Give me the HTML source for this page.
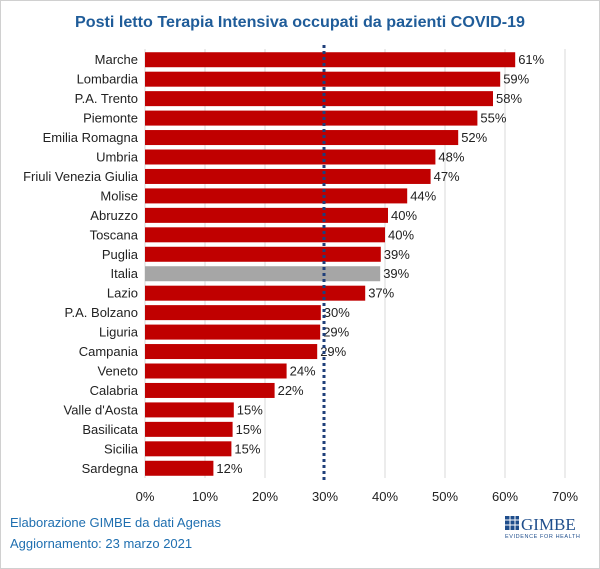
<!DOCTYPE html>
<html><head><style>
body{margin:0;background:#fff;}
.w{position:relative;width:598px;height:567px;border:1px solid #d0d0d0;font-family:"Liberation Sans",sans-serif;overflow:hidden}
</style></head><body><div class="w">
<svg width="598" height="567" viewBox="1 1 598 567" xmlns="http://www.w3.org/2000/svg" font-family="Liberation Sans, sans-serif">
<text x="300" y="27" text-anchor="middle" font-size="16" font-weight="bold" fill="#1f5c99" textLength="450" lengthAdjust="spacingAndGlyphs">Posti letto Terapia  Intensiva occupati da pazienti COVID-19</text>
<g stroke="#d9d9d9" stroke-width="1">
<line x1="145" y1="49" x2="145" y2="478"/><line x1="205" y1="49" x2="205" y2="478"/><line x1="265" y1="49" x2="265" y2="478"/><line x1="385" y1="49" x2="385" y2="478"/><line x1="445" y1="49" x2="445" y2="478"/><line x1="505" y1="49" x2="505" y2="478"/><line x1="565" y1="49" x2="565" y2="478"/>
</g>
<g font-size="13" fill="#222" id="bars"></g>
<line x1="324" y1="45" x2="324" y2="480" stroke="#1f3f7a" stroke-width="3" stroke-dasharray="3,3"/>
<g font-size="13" fill="#222" text-anchor="middle">
<text x="145" y="501">0%</text><text x="205" y="501">10%</text><text x="265" y="501">20%</text><text x="325" y="501">30%</text><text x="385" y="501">40%</text><text x="445" y="501">50%</text><text x="505" y="501">60%</text><text x="565" y="501">70%</text>
</g>
<text x="10" y="527" font-size="13" fill="#1f6fb0">Elaborazione GIMBE da dati Agenas</text>
<text x="10" y="548" font-size="13" fill="#1f6fb0">Aggiornamento: 23 marzo 2021</text>
<rect x="505" y="516" width="14" height="14" fill="#1f4e8c"/>
<g stroke="#fff" stroke-width="1"><line x1="505" y1="520" x2="519" y2="520"/><line x1="505" y1="525" x2="519" y2="525"/><line x1="510" y1="516" x2="510" y2="530"/><line x1="515" y1="516" x2="515" y2="530"/></g>
<text x="521" y="530" font-size="17" fill="#1f4e8c" font-family="Liberation Serif, serif">GIMBE</text>
<text x="505" y="538" font-size="5.5" fill="#1f4e8c" letter-spacing="0.6">EVIDENCE FOR HEALTH</text>
</svg>
<script>
(function(){
var d=[["Marche",61.7,"61%"],["Lombardia",59.2,"59%"],["P.A. Trento",58,"58%"],["Piemonte",55.4,"55%"],["Emilia Romagna",52.2,"52%"],["Umbria",48.4,"48%"],["Friuli Venezia Giulia",47.6,"47%"],["Molise",43.7,"44%"],["Abruzzo",40.5,"40%"],["Toscana",40,"40%"],["Puglia",39.3,"39%"],["Italia",39.2,"39%"],["Lazio",36.7,"37%"],["P.A. Bolzano",29.3,"30%"],["Liguria",29.2,"29%"],["Campania",28.7,"29%"],["Veneto",23.6,"24%"],["Calabria",21.6,"22%"],["Valle d'Aosta",14.8,"15%"],["Basilicata",14.6,"15%"],["Sicilia",14.4,"15%"],["Sardegna",11.4,"12%"]];
var g=document.getElementById("bars"),s="";
var n=d.length,y0=50,step=(478-50)/n;
d.forEach(function(r,i){var c=y0+step*(i+0.5),w=r[1]*6;
s+='<rect x="145" y="'+(c-7.5)+'" width="'+w+'" height="15" fill="'+(r[0]=="Italia"?"#a6a6a6":"#c00000")+'"/>';
s+='<text x="138" y="'+(c+4.5)+'" text-anchor="end">'+r[0]+'</text>';
s+='<text x="'+(148+w)+'" y="'+(c+4.5)+'">'+r[2]+'</text>';});
g.innerHTML=s;
})();
</script>
</div></body></html>
